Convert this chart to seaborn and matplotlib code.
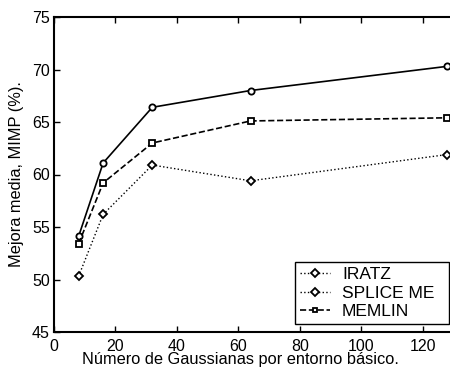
import matplotlib
matplotlib.use("Agg")
import pandas as pd
import matplotlib.pyplot as plt
import seaborn as sns
from matplotlib.lines import Line2D

sns.set_style("ticks")
plt.rcParams['font.family'] = ['Liberation Sans', 'DejaVu Sans']
plt.rcParams['font.size'] = 11.5
plt.rcParams['text.color'] = 'black'
plt.rcParams['axes.labelcolor'] = 'black'

# Gaussianas por entorno básico
gauss = [8, 16, 32, 64, 128]
solid_vals = [54.1, 61.1, 66.4, 68.0, 70.3]
dashed_vals = [53.4, 59.2, 63.0, 65.1, 65.4]
dotted_vals = [50.3, 56.2, 60.9, 59.4, 61.9]

legend_labels = ["IRATZ", "SPLICE ME", "MEMLIN"]

fig = plt.figure(figsize=(4.5, 3.69), dpi=100)
ax = fig.add_axes([54 / 450, 1 - 332 / 369, 430 / 450, 315 / 369])

series = [
    (solid_vals, "-", "o", 4.5, 1.2),
    (dashed_vals, "--", "s", 4.0, 1.2),
    (dotted_vals, ":", "D", 4.5, 1.0),
]
for vals, ls, mk, ms, lw in series:
    df = pd.DataFrame({"g": gauss, "v": vals})
    sns.lineplot(data=df, x="g", y="v", ax=ax, color="black", linestyle=ls,
                 marker=mk, markersize=ms, markerfacecolor="white",
                 markeredgecolor="black", markeredgewidth=1.3, linewidth=lw,
                 legend=False)

ax.set_xlim(0, 140)
ax.set_ylim(45, 75)
ax.set_xticks([0, 20, 40, 60, 80, 100, 120])
ax.set_yticks([45, 50, 55, 60, 65, 70, 75])
ax.tick_params(direction="in", top=True, right=True, length=4, width=1,
               labelsize=11.5, colors="black")
ax.tick_params(axis="x", pad=5)
ax.tick_params(axis="y", pad=3)
for s in ax.spines.values():
    s.set_linewidth(1.5)
    s.set_color("black")

ax.set_xlabel("Número de Gaussianas por entorno básico.", fontsize=11.75, labelpad=-1)
ax.xaxis.set_label_coords((240 - 54) / 430, -0.065)
ax.set_ylabel("Mejora media, MIMP (%).", fontsize=11.75, labelpad=6)

handles = [
    Line2D([], [], color="black", linestyle=":", marker="D", markersize=4,
           markerfacecolor="white", markeredgewidth=1.3, linewidth=1),
    Line2D([], [], color="black", linestyle=":", marker="D", markersize=4,
           markerfacecolor="white", markeredgewidth=1.3, linewidth=1),
    Line2D([], [], color="black", linestyle="--", marker="s", markersize=3.5,
           markerfacecolor="white", markeredgewidth=1.3, linewidth=1.2),
]
leg = fig.legend(handles, legend_labels, loc="upper left",
                 bbox_to_anchor=(295 / 450, 1 - 326 / 369, 154 / 450, 64 / 369),
                 mode="expand", fontsize=12.5,
                 handlelength=1.7, labelspacing=0.18, borderpad=0.3,
                 handletextpad=0.7, borderaxespad=0, fancybox=False, framealpha=1)
leg.get_frame().set_edgecolor("black")
leg.get_frame().set_linewidth(1.0)

fig.savefig("out.png", dpi=100)
